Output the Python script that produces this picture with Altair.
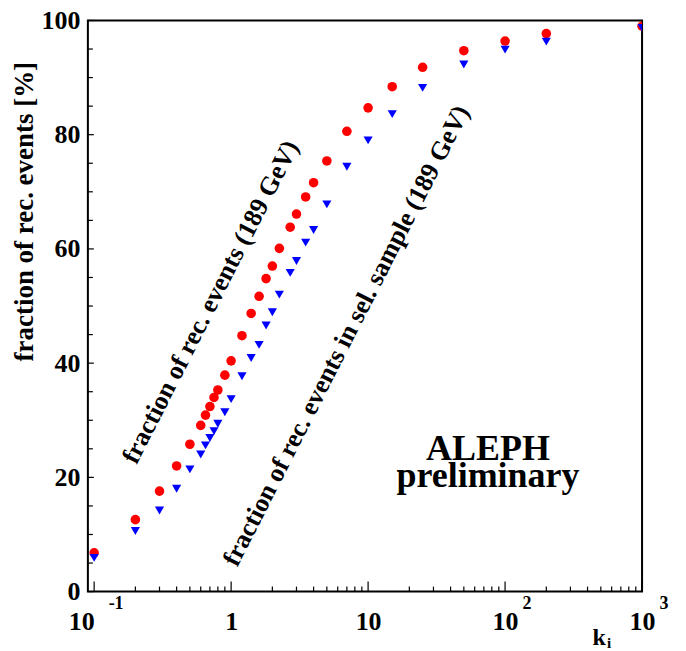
import altair as alt
import pandas as pd

# ---- data ----
k_values = [0.1, 0.2, 0.3, 0.4, 0.5, 0.6, 0.65, 0.7, 0.75, 0.8, 0.9, 1, 1.2, 1.4, 1.6,
            1.8, 2, 2.25, 2.7, 3, 3.5, 4, 5, 7, 10, 15, 25, 50, 100, 200, 1000]
all_events = [6.8, 12.6, 17.6, 22.0, 25.8, 29.1, 30.9, 32.4, 34.0, 35.3, 37.9, 40.4, 44.8, 48.7, 51.7,
              54.8, 57.0, 60.1, 63.8, 66.1, 69.1, 71.6, 75.4, 80.6, 84.7, 88.4, 91.8, 94.7, 96.4, 97.7, 99.0]
sel_events = [5.9, 10.6, 14.2, 18.0, 21.4, 24.0, 25.6, 26.9, 28.1, 29.4, 31.4, 33.7, 37.7, 40.9, 43.2,
              46.6, 48.9, 52.0, 55.8, 57.9, 61.1, 63.3, 67.8, 74.4, 79.0, 83.6, 88.2, 92.3, 94.9, 96.3, 98.7]

major_x_ticks = [0.1, 1, 10, 100, 1000]
minor_x_ticks = [m * d for d in (0.1, 1, 10, 100) for m in range(2, 10)]
major_y_ticks = [0, 20, 40, 60, 80, 100]
minor_y_ticks = [v for v in range(0, 101, 5) if v % 20 != 0]
sup_positions = [0.1, 100, 1000]
sup_labels = ["-1", "2", "3"]

annot_k = [0.709, 6.95]
annot_y = [50.7, 44.8]
annot_text = ["fraction of rec. events (189 GeV)",
              "fraction of rec. events in sel. sample (189 GeV)"]

aleph_k = [75, 75]
aleph_y = [23.1, 18.4]
aleph_text = ["ALEPH", "preliminary"]

W, H = 555, 572
FONT = "Liberation Serif"

xscale = alt.Scale(type="log", domain=[0.09, 1000], nice=False)
yscale = alt.Scale(domain=[0, 100], nice=False)

xaxis = alt.Axis(values=major_x_ticks, ticks=False, tickSize=0, domain=False, grid=False,
                 labelExpr="datum.value == 1 ? '1' : '10'",
                 labelAlign={"condition": {"test": "datum.value < 0.5", "value": "right"}, "value": "center"},
                 labelBaseline="alphabetic", labelPadding=38,
                 labelFont=FONT, labelFontSize=26, labelFontWeight="bold", labelColor="black",
                 labelFlush=False, labelOverlap=False, title=None)
yaxis = alt.Axis(values=major_y_ticks, ticks=False, tickSize=0, domain=False, grid=False,
                 labelBaseline="middle", labelPadding=8, labelFont=FONT, labelFontSize=26,
                 labelFontWeight="bold", labelColor="black", labelFlush=False, labelOverlap=False,
                 title="fraction of rec. events [%]", titleFont=FONT, titleFontSize=27,
                 titleFontWeight="bold", titleColor="black", titleAngle=270,
                 titleAnchor="middle", titleAlign="center", titleBaseline="middle",
                 titleX=-63, titleY=191)


def X(field):
    return alt.X(field, type="quantitative", scale=xscale, axis=xaxis)


def Y(field):
    return alt.Y(field, type="quantitative", scale=yscale, axis=yaxis)


df = pd.DataFrame({"k": k_values, "all": all_events, "sel": sel_events})

red = alt.Chart(df).mark_point(shape="circle", filled=True, size=92, color="#ff0000",
                                opacity=1, clip=True).encode(x=X("k"), y=Y("all"))
blue = alt.Chart(df).mark_point(shape="triangle-down", filled=True, size=84, color="#0000ff",
                                 opacity=1, clip=True).encode(x=X("k"), y=Y("sel"))

xmaj = alt.Chart(pd.DataFrame({"k": major_x_ticks})).mark_rule(color="black", strokeWidth=1.2).encode(
    x=X("k"), y=alt.value(H), y2=alt.value(H - 10))
xmin = alt.Chart(pd.DataFrame({"k": minor_x_ticks})).mark_rule(color="black", strokeWidth=1.2).encode(
    x=X("k"), y=alt.value(H), y2=alt.value(H - 5))
ymaj = alt.Chart(pd.DataFrame({"v": major_y_ticks})).mark_rule(color="black", strokeWidth=1.2).encode(
    y=Y("v"), x=alt.value(0), x2=alt.value(6))
ymin = alt.Chart(pd.DataFrame({"v": minor_y_ticks})).mark_rule(color="black", strokeWidth=1.2).encode(
    y=Y("v"), x=alt.value(0), x2=alt.value(5))

sup = alt.Chart(pd.DataFrame({"k": sup_positions, "t": sup_labels})).mark_text(
    font=FONT, fontSize=18, fontWeight="bold", color="black", align="center",
    baseline="middle", dx=22).encode(x=X("k"), y=alt.value(H + 12), text="t:N")

annot = alt.Chart(pd.DataFrame({"k": annot_k, "v": annot_y, "t": annot_text})).mark_text(
    font=FONT, fontSize=26, fontWeight="bold", color="black", align="center",
    baseline="middle", angle=297).encode(x=X("k"), y=Y("v"), text="t:N")

aleph = alt.Chart(pd.DataFrame({"k": aleph_k, "v": aleph_y, "t": aleph_text})).mark_text(
    font=FONT, fontSize=36, fontWeight="bold", color="black", align="center",
    baseline="alphabetic").encode(x=X("k"), y=Y("v"), text="t:N")

kt = alt.Chart(pd.DataFrame({"t": ["k"]})).mark_text(
    font=FONT, fontSize=24, fontWeight="bold", color="black", align="center",
    baseline="alphabetic").encode(x=alt.value(512), y=alt.value(625), text="t:N")
it = alt.Chart(pd.DataFrame({"t": ["i"]})).mark_text(
    font=FONT, fontSize=15, fontWeight="bold", color="black", align="center",
    baseline="alphabetic").encode(x=alt.value(522), y=alt.value(628), text="t:N")

chart = alt.layer(xmaj, xmin, ymaj, ymin, red, blue, annot, aleph, sup, kt, it).properties(
    width=W, height=H,
    padding={"left": 80, "top": 12, "right": 36, "bottom": 59},
    autosize=alt.AutoSizeParams(type="none"),
    background="white",
).configure_view(stroke="black", strokeWidth=2)

chart.save("out.html", embed_options={"renderer": "svg", "actions": False})
